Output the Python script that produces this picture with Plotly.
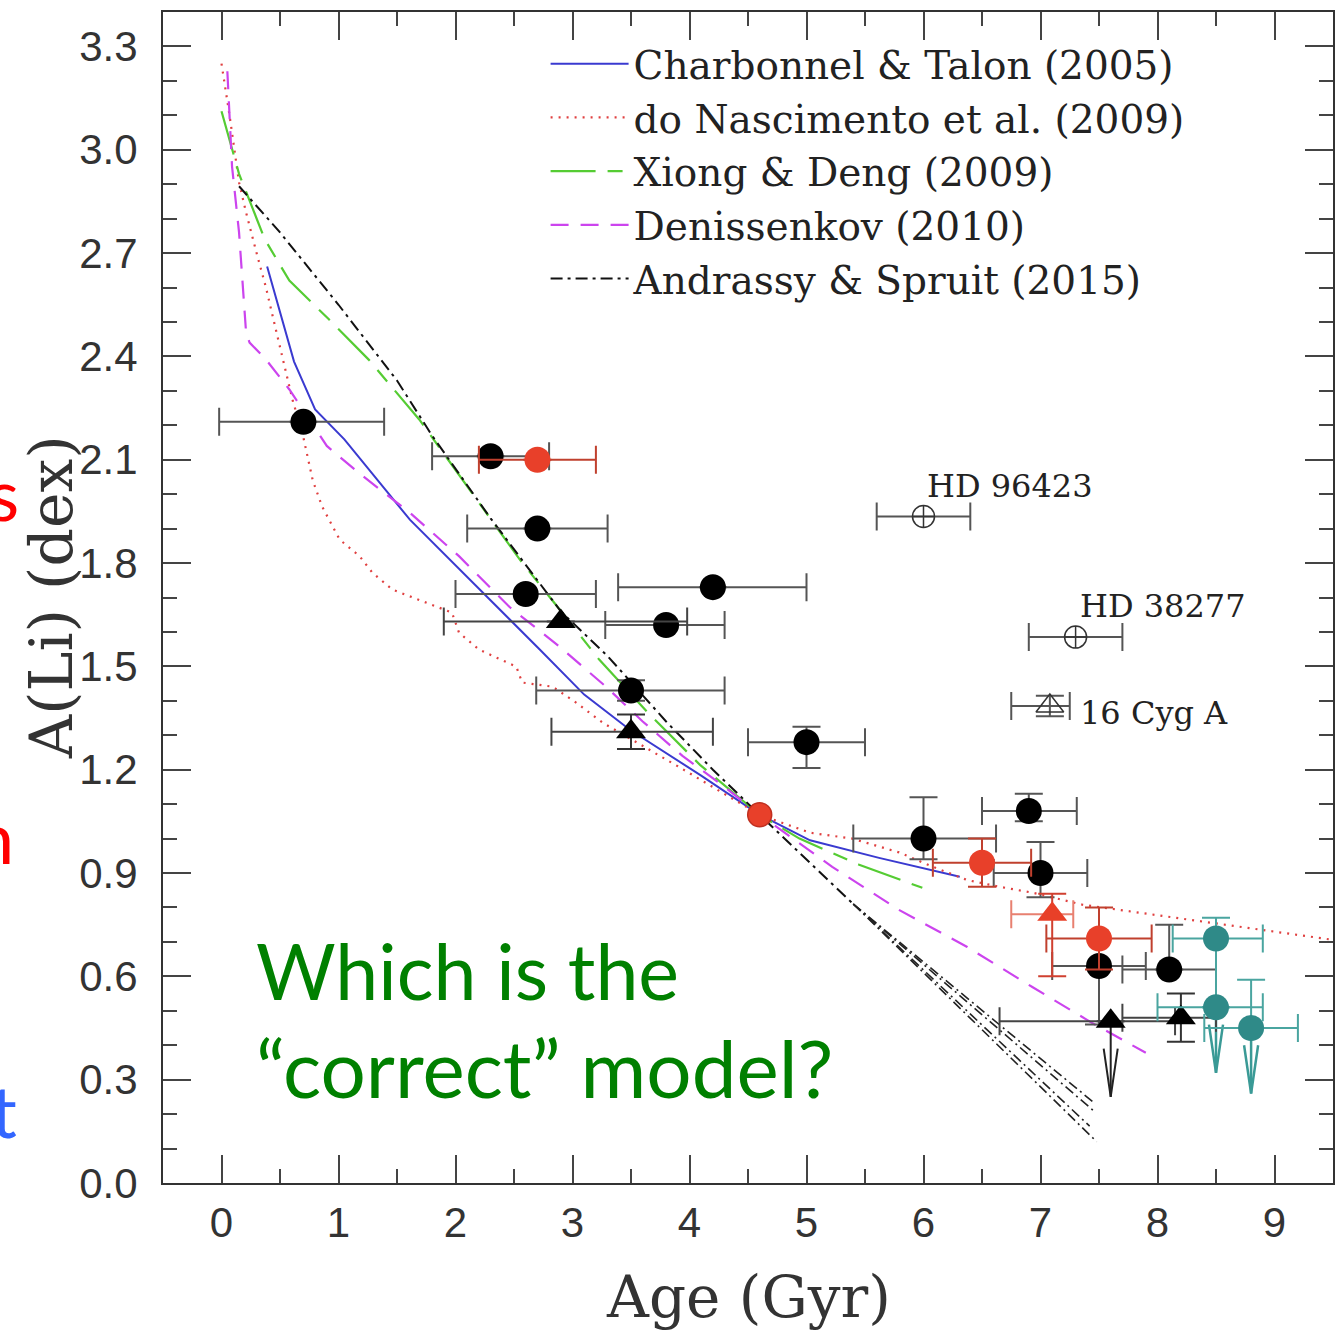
import plotly.graph_objects as go

# ---------------- model curves ----------------
ct_age = [0.39, 0.62, 0.80, 1.05, 1.61, 2.21, 2.72, 3.10, 3.49, 4.09, 4.60, 5.03, 5.62, 6.31]
ct_li = [2.661, 2.385, 2.246, 2.159, 1.926, 1.723, 1.549, 1.418, 1.316, 1.185, 1.069, 0.995, 0.944, 0.889]

dn_age = [0.0, 0.07, 0.15, 0.21, 0.30, 0.38, 0.47, 0.56, 0.61, 0.69, 0.78, 0.86, 1.01, 1.18, 1.29,
          1.46, 1.75, 1.97, 2.03, 2.20, 2.52, 2.57, 2.83, 3.03, 3.26, 3.90, 4.60, 5.03, 5.39, 5.79,
          6.08, 6.37, 6.65, 6.93, 7.36, 8.08, 8.79, 9.50]
dn_li = [3.25, 3.097, 2.905, 2.818, 2.70, 2.60, 2.47, 2.34, 2.27, 2.18, 2.04, 1.964, 1.868, 1.82, 1.772,
         1.723, 1.685, 1.656, 1.598, 1.549, 1.499, 1.453, 1.441, 1.395, 1.336, 1.21, 1.069, 1.017, 1.0, 0.96,
         0.918, 0.88, 0.86, 0.843, 0.808, 0.773, 0.74, 0.706]

xd_age = [0.0, 0.15, 0.37, 0.58, 0.92, 1.26, 1.69, 2.12, 2.55, 2.89, 3.23, 3.66, 4.09, 4.60, 4.94, 5.45, 5.99]
xd_li = [3.112, 2.93, 2.74, 2.62, 2.507, 2.39, 2.217, 2.013, 1.81, 1.665, 1.519, 1.36, 1.214, 1.069, 1.0, 0.924, 0.857]

dk_age = [0.05, 0.09, 0.15, 0.21, 0.24, 0.38, 0.58, 0.75, 0.90, 1.18, 1.61, 2.03, 2.46, 2.89, 3.29,
          3.60, 3.94, 4.30, 4.60, 5.22, 5.79, 6.37, 6.93, 7.44, 7.90]
dk_li = [3.228, 2.952, 2.76, 2.47, 2.44, 2.391, 2.304, 2.217, 2.14, 2.06, 1.946, 1.82, 1.673, 1.557, 1.44,
         1.34, 1.24, 1.15, 1.069, 0.918, 0.793, 0.686, 0.569, 0.465, 0.378]

as_age = [0.15, 0.50, 1.00, 1.50, 1.80, 2.30, 2.90, 3.30, 3.80, 4.20, 4.60, 5.00, 5.40]
as_li = [2.894, 2.76, 2.55, 2.33, 2.17, 1.93, 1.66, 1.53, 1.34, 1.20, 1.069, 0.94, 0.81]
as_fan_end_age = [7.45, 7.47, 7.42, 7.48]
as_fan_end_li = [0.235, 0.205, 0.165, 0.12]

# ---------------- observations ----------------
bc_age = [0.7, 2.3, 2.7, 2.6, 3.8, 4.2, 3.5, 5.0, 6.0, 6.9, 7.0, 7.5, 8.1]
bc_li = [2.21, 2.11, 1.90, 1.71, 1.62, 1.73, 1.43, 1.28, 1.00, 1.08, 0.90, 0.63, 0.62]
bc_xlo = [0.72, 0.50, 0.60, 0.60, 0.52, 0.81, 0.81, 0.50, 0.60, 0.40, 0.40, 0.40, 0.40]
bc_xhi = [0.69, 0.50, 0.60, 0.60, 0.50, 0.80, 0.80, 0.50, 0.62, 0.41, 0.40, 0.40, 0.40]
bc_yhi = [0, 0, 0, 0, 0, 0, 0.03, 0.045, 0.12, 0.05, 0.09, 0, 0.13]
bc_ylo = [0, 0, 0, 0, 0, 0, 0.03, 0.075, 0.06, 0.03, 0.07, 0.17, 0]

bt_age = [2.9, 3.5, 7.6, 8.2]
bt_li = [1.63, 1.31, 0.47, 0.48]
bt_xlo = [1.0, 0.68, 0.95, 0.50]
bt_xhi = [1.08, 0.70, 0.55, 0.30]
bt_yerr = [0, 0.05, 0, 0.07]

rc_age = [2.7, 6.5, 7.5]
rc_li = [2.10, 0.93, 0.71]
rc_xerr = [0.5, 0.42, 0.45]
rc_yerr = [0, 0.07, 0.09]

rt_age = [7.1]
rt_li = [0.78]
rt_xlo = [0.35]
rt_xhi = [0.18]
rt_yhi = [0.06]
rt_ylo = [0.18]

sun_age = [4.6]
sun_li = [1.069]

tc_age = [8.5, 8.5, 8.8]
tc_li = [0.71, 0.51, 0.45]
tc_xlo = [0.37, 0.50, 0.40]
tc_xhi = [0.40, 0.40, 0.40]
tc_yhi = [0.06, 0, 0.14]
tc_ylo = [0.2, 0, 0]

oc_age = [6.0, 7.3]
oc_li = [1.935, 1.585]
oc_xerr = [0.4, 0.4]
oc_names = ["HD 96423", "HD 38277"]
ot_age = [7.08]
ot_li = [1.385]
ot_xlo = [0.33]
ot_xhi = [0.17]
ot_name = "16 Cyg A"

# upper limits: (age, li_start, li_tip)
ul_black = [(7.6, 0.47, 0.25)]
ul_teal = [(8.5, 0.51, 0.32), (8.8, 0.45, 0.26)]

x_ticks = [0, 1, 2, 3, 4, 5, 6, 7, 8, 9]

fig = go.Figure()

# model curves
fig.add_trace(go.Scatter(x=ct_age, y=ct_li, mode="lines", name="Charbonnel & Talon (2005)",
                         line=dict(color="#3a3ad0", width=2)))
fig.add_trace(go.Scatter(x=dn_age, y=dn_li, mode="lines", name="do Nascimento et al. (2009)",
                         line=dict(color="#e04040", width=2.2, dash="2px,6px")))
fig.add_trace(go.Scatter(x=xd_age, y=xd_li, mode="lines", name="Xiong & Deng (2009)",
                         line=dict(color="#55cc33", width=2.2, dash="45px,12px,15px,12px")))
fig.add_trace(go.Scatter(x=dk_age, y=dk_li, mode="lines", name="Denissenkov (2010)",
                         line=dict(color="#cc44ee", width=2.2, dash="18px,12px")))
fig.add_trace(go.Scatter(x=as_age, y=as_li, mode="lines", name="Andrassy & Spruit (2015)",
                         line=dict(color="#111111", width=2, dash="12px,5px,3px,5px")))
for ea, el in zip(as_fan_end_age, as_fan_end_li):
    fig.add_trace(go.Scatter(x=[as_age[-1], ea], y=[as_li[-1], el], mode="lines", showlegend=False,
                             line=dict(color="#222222", width=1.6, dash="10px,4px,2px,4px")))

# upper-limit arrows
def arrow_xy(items, dx=0.06, dy=0.14):
    xs, ys = [], []
    for a, y0, yt in items:
        xs += [a, a, None, a - dx, a, a + dx, None]
        ys += [y0, yt, None, yt + dy, yt, yt + dy, None]
    return xs, ys

ax_, ay_ = arrow_xy(ul_black)
fig.add_trace(go.Scatter(x=ax_, y=ay_, mode="lines", showlegend=False, line=dict(color="#222", width=2)))
ax_, ay_ = arrow_xy(ul_teal)
fig.add_trace(go.Scatter(x=ax_, y=ay_, mode="lines", showlegend=False, line=dict(color="#3a9a96", width=2.5)))

ebw = dict(thickness=2, width=14)

# open symbols
fig.add_trace(go.Scatter(x=oc_age, y=oc_li, mode="markers", showlegend=False,
                         marker=dict(symbol="circle-cross-open", size=22, color="#333", line=dict(width=1.5)),
                         error_x=dict(type="data", array=oc_xerr, color="#555", **ebw)))
fig.add_trace(go.Scatter(x=ot_age, y=ot_li, mode="markers", showlegend=False,
                         marker=dict(symbol="triangle-up-open", size=24, color="#333", line=dict(width=1.5)),
                         error_x=dict(type="data", symmetric=False, array=ot_xhi, arrayminus=ot_xlo, color="#555", **ebw),
                         error_y=dict(type="data", array=[0.03], color="#555", **ebw)))

# black circles
fig.add_trace(go.Scatter(x=bc_age, y=bc_li, mode="markers", showlegend=False,
                         marker=dict(symbol="circle", size=26, color="black"),
                         error_x=dict(type="data", symmetric=False, array=bc_xhi, arrayminus=bc_xlo, color="#555", **ebw),
                         error_y=dict(type="data", symmetric=False, array=bc_yhi, arrayminus=bc_ylo, color="#555", **ebw)))
# black triangles
fig.add_trace(go.Scatter(x=bt_age, y=bt_li, mode="markers", showlegend=False,
                         marker=dict(symbol="triangle-up", size=26, color="black"),
                         error_x=dict(type="data", symmetric=False, array=bt_xhi, arrayminus=bt_xlo, color="#444", **ebw),
                         error_y=dict(type="data", array=bt_yerr, color="#333", **ebw)))
# teal circles
fig.add_trace(go.Scatter(x=tc_age, y=tc_li, mode="markers", showlegend=False,
                         marker=dict(symbol="circle", size=26, color="#2f8a88"),
                         error_x=dict(type="data", symmetric=False, array=tc_xhi, arrayminus=tc_xlo, color="#4aa5a0", **ebw),
                         error_y=dict(type="data", symmetric=False, array=tc_yhi, arrayminus=tc_ylo, color="#4aa5a0", **ebw)))
# red triangle
fig.add_trace(go.Scatter(x=rt_age, y=rt_li, mode="markers", showlegend=False,
                         marker=dict(symbol="triangle-up", size=26, color="#e84028"),
                         error_x=dict(type="data", symmetric=False, array=rt_xhi, arrayminus=rt_xlo, color="#e88070", **ebw),
                         error_y=dict(type="data", symmetric=False, array=rt_yhi, arrayminus=rt_ylo, color="#d04030", **ebw)))
# red circles
fig.add_trace(go.Scatter(x=rc_age, y=rc_li, mode="markers", showlegend=False,
                         marker=dict(symbol="circle", size=26, color="#e8402a"),
                         error_x=dict(type="data", array=rc_xerr, color="#c0402e", **ebw),
                         error_y=dict(type="data", array=rc_yerr, color="#c0402e", **ebw)))
# sun
fig.add_trace(go.Scatter(x=sun_age, y=sun_li, mode="markers", showlegend=False,
                         marker=dict(symbol="circle", size=24, color="#e8402a",
                                     line=dict(color="#c03020", width=1.5))))

# labels of special stars
annots = []
annots.append(dict(x=oc_age[0] + 0.01, y=oc_li[0] + 0.09, text=oc_names[0], showarrow=False,
                   xanchor="left", yanchor="middle", font=dict(family="DejaVu Serif", size=32, color="#222")))
annots.append(dict(x=oc_age[1] + 0.02, y=oc_li[1] + 0.09, text=oc_names[1], showarrow=False,
                   xanchor="left", yanchor="middle", font=dict(family="DejaVu Serif", size=32, color="#222")))
annots.append(dict(x=ot_age[0] + 0.24, y=ot_li[0] - 0.02, text=ot_name, showarrow=False,
                   xanchor="left", yanchor="middle", font=dict(family="DejaVu Serif", size=32, color="#222")))

# axis titles
annots.append(dict(xref="paper", yref="paper", x=0.5, y=-0.097, text="Age (Gyr)", showarrow=False,
                   xanchor="center", yanchor="middle", font=dict(family="DejaVu Serif", size=58, color="#333")))
annots.append(dict(xref="paper", yref="paper", x=-0.096, y=0.5, text="A(Li) (dex)", showarrow=False,
                   textangle=-90, xanchor="center", yanchor="middle",
                   font=dict(family="DejaVu Serif", size=60, color="#333")))

# overlay question
annots.append(dict(xref="paper", yref="paper", x=0.078, y=0.182, text="Which is the", showarrow=False,
                   xanchor="left", yanchor="middle", font=dict(family="Lato", size=77, color="#008000")))
annots.append(dict(xref="paper", yref="paper", x=0.078, y=0.099, text="\u201ccorrect\u201d model?", showarrow=False,
                   xanchor="left", yanchor="middle", font=dict(family="Lato", size=80, color="#008000")))

# cropped slide letters at left edge (cut off by the page edge, as in the reference)
annots.append(dict(xref="paper", yref="paper", x=-0.121, y=0.589, text="s", showarrow=False,
                   xanchor="right", yanchor="middle", font=dict(family="Lato", size=72, color="#ff0000")))
annots.append(dict(xref="paper", yref="paper", x=-0.126, y=0.296, text="n", showarrow=False,
                   xanchor="right", yanchor="middle", font=dict(family="Lato", size=72, color="#ff0000")))
annots.append(dict(xref="paper", yref="paper", x=-0.123, y=0.062, text="t", showarrow=False,
                   xanchor="right", yanchor="middle", font=dict(family="Lato", size=72, color="#3366ff")))

axis_common = dict(showline=True, linecolor="#333", linewidth=2, mirror="ticks", ticks="inside",
                   tickwidth=2, tickcolor="#444", ticklen=28, showgrid=False, zeroline=False,
                   tickfont=dict(family="Liberation Sans", size=42, color="#333"))

fig.update_layout(
    width=1338, height=1330,
    margin=dict(l=163, r=3, t=12, b=147),
    paper_bgcolor="white", plot_bgcolor="white",
    showlegend=True,
    legend=dict(x=0.327, y=0.983, xanchor="left", yanchor="top", bgcolor="rgba(0,0,0,0)",
                itemwidth=78, font=dict(family="DejaVu Serif", size=39, color="#222"),
                tracegroupgap=0),
    annotations=annots,
    xaxis=dict(range=[-0.5, 9.5], tickvals=x_ticks, ticklabelstandoff=2,
               minor=dict(dtick=0.5, tick0=0, ticks="inside", ticklen=14, tickwidth=2, tickcolor="#444"),
               **axis_common),
    yaxis=dict(range=[0, 3.4], tick0=0, dtick=0.3, tickformat=".1f", ticklabelstandoff=15,
               minor=dict(dtick=0.1, tick0=0, ticks="inside", ticklen=14, tickwidth=2, tickcolor="#444"),
               **axis_common),
)

fig.write_html("out.html")
